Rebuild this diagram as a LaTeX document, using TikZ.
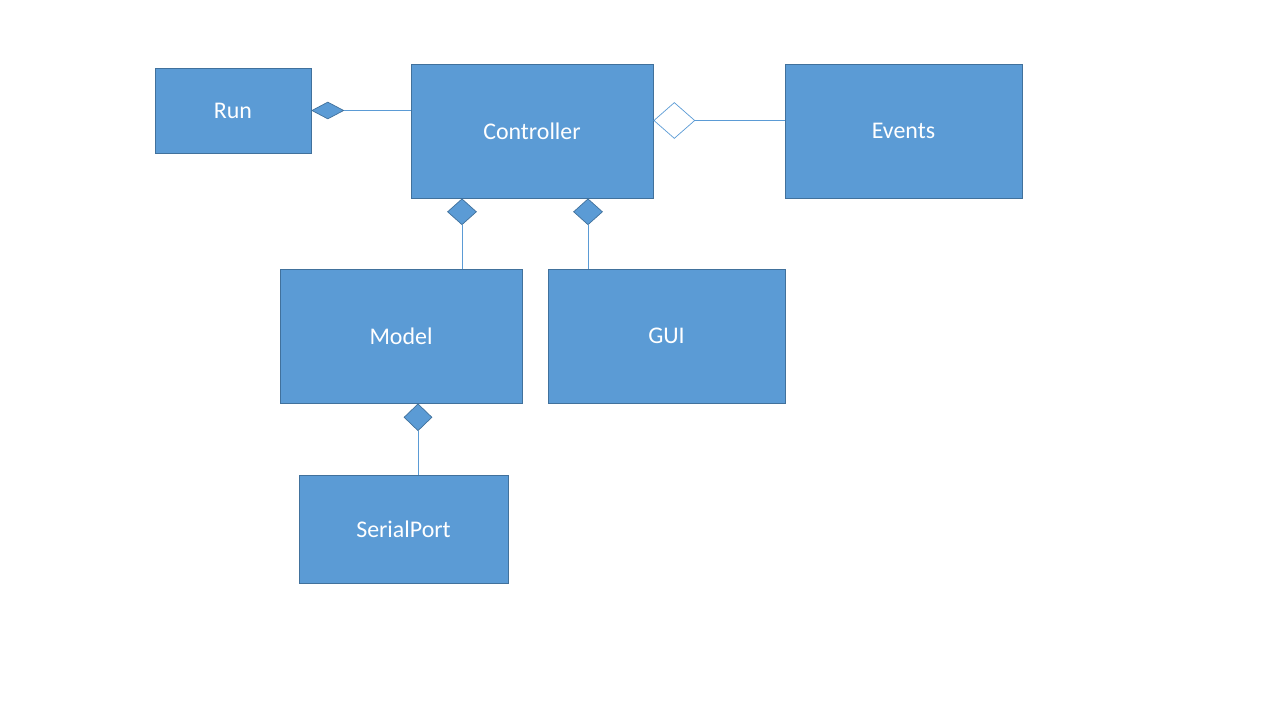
\documentclass[tikz,border=0pt]{standalone}
\usepackage{fontspec}
\setmainfont{Carlito}
\usetikzlibrary{shapes.geometric}
\definecolor{boxfill}{HTML}{5B9BD5}
\definecolor{boxline}{HTML}{41719C}
\tikzset{
  classbox/.style={draw=boxline, fill=boxfill, line width=0.6pt, rectangle, text=white,
                   font=\fontsize{17}{20}\selectfont},
  agg/.style={diamond, draw=boxline, fill=boxfill, line width=0.5pt, inner sep=0pt},
  aggopen/.style={diamond, draw=boxfill, fill=white, line width=0.5pt, inner sep=0pt},
  link/.style={draw=boxfill, line width=0.6pt}
}
\begin{document}
\begin{tikzpicture}[x=0.025cm, y=-0.025cm]
\useasboundingbox (0,0) rectangle (1280,720);

% classes
\node[classbox, minimum width=3.9cm, minimum height=2.125cm] at (233, 110.5) (run) {Run};
\node[classbox, minimum width=6.05cm, minimum height=3.35cm] at (532, 131) (ctrl) {Controller};
\node[classbox, minimum width=5.925cm, minimum height=3.35cm] at (903.5, 131) (events) {Events};
\node[classbox, minimum width=6.05cm, minimum height=3.35cm] at (401, 336) (model) {Model};
\node[classbox, minimum width=5.925cm, minimum height=3.35cm] at (666.5, 336) (gui) {GUI};
\node[classbox, minimum width=5.225cm, minimum height=2.7cm] at (403.5, 529) (serial) {SerialPort};

% run - controller
\node[agg, minimum width=0.8cm, minimum height=0.425cm, anchor=west] at (run.east) (drun) {};
\draw[link] (drun.east) -- (drun.east -| ctrl.west);

% controller - events
\node[aggopen, minimum width=1.025cm, minimum height=0.9cm, anchor=west, yshift=0.2625cm] at (ctrl.east) (devents) {};
\draw[link] (devents.east) -- (devents.east -| events.west);

% controller - model
\node[agg, minimum width=0.725cm, minimum height=0.65cm, anchor=north, xshift=-1.75cm] at (ctrl.south) (dmodel) {};
\draw[link] (dmodel.south) -- (dmodel.south |- model.north);

% controller - gui
\node[agg, minimum width=0.725cm, minimum height=0.65cm, anchor=north, xshift=1.4cm] at (ctrl.south) (dgui) {};
\draw[link] (dgui.south) -- (dgui.south |- gui.north);

% model - serialport
\node[agg, minimum width=0.7cm, minimum height=0.675cm, anchor=north, xshift=0.425cm] at (model.south) (dserial) {};
\draw[link] (dserial.south) -- (dserial.south |- serial.north);

\end{tikzpicture}
\end{document}
